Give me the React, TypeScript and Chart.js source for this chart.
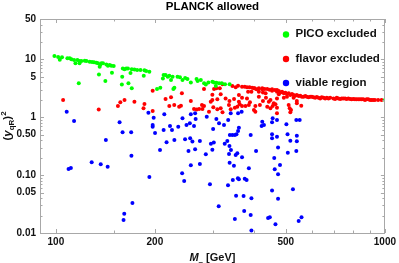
import React, { useEffect, useRef } from "react";
import { Chart, registerables } from "chart.js";

Chart.register(...registerables);

// ---------------- data (M_ in GeV, (y_qR)^2) ----------------
const picoExcluded: [number, number][] = [
  [99, 11.5], [101.6, 11.0], [102.8, 9.9], [104.4, 10.9], [108.4, 10.5], [110.2, 10.5], [111.5, 10.1],
  [113.6, 9.8], [114.7, 8.6], [116.3, 9.8], [118, 9.4], [118, 8.6], [119.6, 9.4], [122.4, 9.5],
  [123.9, 9.4], [126.7, 9.1], [128.8, 9.0], [130.6, 8.9], [132.8, 8.75], [134.3, 8.6], [136.6, 8.2],
  [137.5, 8.6], [135.9, 7.5], [139.1, 8.6], [142.4, 8.2], [144, 7.8], [145.7, 8.0], [147.4, 7.8],
  [149.9, 7.7], [135.2, 5.5], [141.4, 4.24], [148.1, 5.9], [117.4, 3.87], [159.8, 7.0], [161.7, 6.8],
  [163.7, 7.0], [165.6, 7.0], [170.1, 6.8], [173.3, 6.7], [176.6, 6.6], [180.8, 6.6], [185.9, 6.5],
  [188.1, 6.3], [192.4, 6.1], [159.1, 5.0], [168.6, 5.8], [185, 5.2], [158.7, 3.7], [166.2, 3.87],
  [170.1, 3.17], [203, 3.08], [207.7, 3.25], [212.6, 5.38], [215.5, 5.4], [211.5, 4.7], [218.8, 5.0],
  [221.2, 5.2], [223.9, 4.4], [226.4, 5.0], [234.3, 5.0], [238.3, 4.9], [242.6, 4.4], [247.2, 4.8],
  [251.2, 4.6], [257.2, 4.0], [267.7, 4.6], [269.7, 4.24], [275.8, 4.4], [282.2, 3.87], [285.6, 3.7],
  [290.8, 4.0], [299, 4.1], [302.6, 4.0], [307.5, 3.96], [313.3, 3.87], [319.3, 3.87], [326.7, 3.72],
  [229.2, 3.25], [227.6, 3.08], [337.4, 3.72], [306.3, 3.47], [1000, 2.0],
];

const flavorExcluded: [number, number][] = [
  [105.2, 1.99], [135, 1.37], [161.7, 1.99], [157, 1.82], [154.4, 1.57], [173.3, 1.86], [185.9, 1.7],
  [184.7, 1.43], [196.9, 2.88], [196.9, 1.29], [358, 3.52], [368, 3.38], [375, 3.38], [381, 3.3],
  [388, 3.3], [395, 3.25], [402, 3.17], [407, 3.05], [424, 3.17], [431, 3.08], [439, 3.08], [446, 3.0],
  [454, 3.05], [463, 2.96], [470, 2.96], [321, 3.72], [315, 3.17], [307.5, 3.17], [302.6, 3.08],
  [384, 2.77], [393, 2.77], [414, 2.77], [426, 2.69], [434, 2.6], [282, 3.08], [317, 2.5], [360, 2.43],
  [299, 2.46], [241.6, 2.6], [223.9, 2.22], [215.5, 2.07], [257.2, 1.91], [299, 1.99], [295.7, 1.86],
  [309.6, 2.05], [328, 2.11], [337, 1.91], [348, 2.07], [368, 2.18], [381, 2.11], [389, 1.82],
  [360, 1.86], [414, 2.27], [435, 2.18], [444, 1.86], [449, 1.99], [470, 2.11], [465, 1.68], [456, 1.57],
  [426, 1.91], [417, 1.63], [404, 1.57], [221.2, 1.57], [229, 1.63], [237, 1.52], [240, 1.59],
  [263, 1.39], [268, 1.37], [272.5, 1.39], [278, 1.63], [282, 1.57], [279, 1.39], [292, 1.25],
  [301, 1.49], [309.6, 1.375], [317, 1.43], [321, 1.22], [335.8, 1.63], [340, 1.375], [350, 1.46],
  [356, 1.52], [362, 1.68], [368, 1.57], [377, 1.57], [386, 1.63], [400, 1.34], [404, 1.25], [439, 1.52],
  [449, 1.43], [470, 1.46], [470, 1.17],
  [470, 2.77], [476, 2.85], [481.5, 2.69], [487, 2.77], [493, 2.6], [498.5, 2.65], [504, 2.525],
  [510, 2.6], [516, 2.43], [522, 2.525], [528, 2.43], [534, 2.36], [540, 2.43], [547, 2.33], [553, 2.36],
  [559.5, 2.27], [566, 2.27], [573, 2.33], [579, 2.27], [586, 2.22], [593, 2.27], [600, 2.27],
  [607, 2.22], [614, 2.18], [621, 2.24], [628.5, 2.18], [636, 2.11], [643, 2.22], [651, 2.18],
  [658.5, 2.11], [666, 2.18], [674, 2.11], [682, 2.18], [698, 2.11], [706, 2.07], [714, 2.18],
  [722.5, 2.11], [731, 2.07], [739, 2.11], [748, 2.11], [757, 2.11], [765, 2.07], [774.5, 2.11],
  [784, 2.07], [792.5, 2.05], [802, 2.07], [811, 2.05], [820, 2.05], [830, 2.05], [840, 2.05],
  [850, 2.05], [860, 2.05], [870, 1.99], [880, 2.05], [890, 2.05], [901, 1.99], [911, 1.99],
  [922, 1.99], [933, 1.99], [954, 1.99], [977, 1.99],
  [476, 2.5], [493, 2.18], [504, 2.27], [528, 2.18], [510, 1.63], [513.6, 1.43], [518.4, 1.34],
  [516, 1.22], [540, 1.91], [540, 1.75], [557, 1.59], [459.5, 1.75], [344, 3.47], [352, 3.3],
  [414, 3.17], [424, 3.05], [454, 2.88], [400, 3.17],
];

const viableRegion: [number, number][] = [
  [107.9, 1.25], [113.6, 0.86], [156.2, 0.82], [159.5, 0.55], [169.4, 0.55], [141.9, 0.405],
  [191.1, 1.2], [198.3, 0.98], [196.9, 0.736], [196.9, 0.689], [200.2, 0.535], [213.6, 1.13],
  [212.6, 0.603], [207.3, 0.272], [169.7, 0.217], [128.5, 0.167], [136.9, 0.154], [143.7, 0.139],
  [109.3, 0.128], [111.1, 0.133], [192.4, 0.093], [170.9, 0.033], [161.4, 0.0216], [160.6, 0.0168],
  [242.6, 0.96], [257.2, 1.13], [265, 1.17], [266, 0.934], [287.5, 1.02], [307.5, 0.934], [340, 1.17],
  [334, 0.898], [358, 1.17], [367, 1.25], [313.3, 0.79], [324.4, 0.736], [255.4, 0.79], [249.5, 0.736],
  [263, 0.707], [235.5, 0.689], [222.3, 0.707], [225.4, 0.603], [300.6, 0.627], [360, 0.66], [358, 0.58],
  [424, 0.84], [429, 0.736], [422, 0.707], [456, 0.96], [470, 0.898], [454, 0.82], [454, 0.51],
  [470, 0.46], [338, 0.494], [344, 0.494], [350, 0.494], [354, 0.51], [391, 0.494], [247, 0.416],
  [256, 0.433], [229.2, 0.405], [502, 0.757], [538, 0.898], [551, 0.898], [506, 0.51], [540, 0.48],
  [217, 0.37], [260, 0.38], [274, 0.39], [253, 0.261], [265, 0.28], [296, 0.35], [302, 0.365],
  [285.6, 0.23], [299, 0.275], [326, 0.35], [332, 0.39], [454, 0.433], [337, 0.319], [340.5, 0.272],
  [336, 0.232], [352, 0.223], [356, 0.239], [368, 0.204], [406, 0.261], [461, 0.198], [257.2, 0.148],
  [274, 0.156], [337.4, 0.164], [347.7, 0.146], [386, 0.1316], [462.6, 0.1265], [473.5, 0.1035],
  [242, 0.108], [245.5, 0.079], [294, 0.0695], [333.6, 0.0667], [345, 0.0824], [357.5, 0.088],
  [360, 0.0848], [375, 0.0866], [380, 0.0824], [454, 0.0542], [353, 0.044], [372, 0.0435],
  [393, 0.0398], [473.5, 0.0392], [312.6, 0.029], [373.6, 0.024], [391, 0.0205], [441.6, 0.0182],
  [447, 0.0187], [350, 0.0175], [465, 0.0141], [393, 0.011], [540, 0.385], [516, 0.393],
  [473.5, 0.3], [538, 0.261], [507, 0.244], [480, 0.15], [525.5, 0.057], [558, 0.0187], [547, 0.0161],
];

const seriesLabels = ["PICO excluded", "flavor excluded", "viable region"];
const seriesColors = ["rgb(0,255,0)", "rgb(255,0,0)", "rgb(0,0,255)"];

const xMajorTicks = [100, 200, 500, 1000];
const xTickLabels = ["100", "200", "500", "1000"];
const xMinorTicks = [150, 300, 400, 600, 700, 800, 900];
const yMajorTicks = [0.01, 0.05, 0.1, 0.5, 1, 5, 10, 50];
const yTickLabels = ["0.01", "0.05", "0.10", "0.50", "1", "5", "10", "50"];
const yMinorTicks = [
  0.02, 0.03, 0.04, 0.06, 0.07, 0.08, 0.09, 0.2, 0.3, 0.4, 0.6, 0.7, 0.8, 0.9,
  2, 3, 4, 6, 7, 8, 9, 20, 30, 40,
];

const xRange = [89.5, 1000];
const yRange = [0.01, 50];

const FONT = "'Liberation Sans', Arial, Helvetica, sans-serif";
const FRAME = "#a8a8a8";

type Part = { t: string; font: string; dy: number };

function drawParts(ctx: CanvasRenderingContext2D, parts: Part[], cx: number, baseY: number) {
  let total = 0;
  for (const p of parts) {
    ctx.font = p.font;
    total += ctx.measureText(p.t).width;
  }
  let x = cx - total / 2;
  ctx.textAlign = "left";
  ctx.textBaseline = "alphabetic";
  for (const p of parts) {
    ctx.font = p.font;
    ctx.fillText(p.t, x, baseY + p.dy);
    x += ctx.measureText(p.t).width;
  }
}

const framePlugin = {
  id: "mmaFrame",
  afterDraw(chart: any) {
    const { ctx, chartArea } = chart;
    const { left, right, top, bottom } = chartArea;
    const xs = chart.scales.x;
    const ys = chart.scales.y;
    ctx.save();
    // frame
    ctx.strokeStyle = FRAME;
    ctx.lineWidth = 1;
    ctx.strokeRect(Math.round(left) + 0.5, Math.round(top) + 0.5, Math.round(right - left) - 1, Math.round(bottom - top));
    // ticks (inward)
    const xTick = (v: number, len: number) => {
      const p = Math.round(xs.getPixelForValue(v)) + 0.5;
      ctx.beginPath();
      ctx.moveTo(p, bottom);
      ctx.lineTo(p, bottom - len);
      ctx.moveTo(p, top);
      ctx.lineTo(p, top + len);
      ctx.stroke();
    };
    const yTick = (v: number, len: number) => {
      const p = Math.round(ys.getPixelForValue(v)) + 0.5;
      ctx.beginPath();
      ctx.moveTo(left, p);
      ctx.lineTo(left + len, p);
      ctx.moveTo(right, p);
      ctx.lineTo(right - len, p);
      ctx.stroke();
    };
    xMajorTicks.forEach((v) => xTick(v, 4));
    xMinorTicks.forEach((v) => xTick(v, 2.5));
    yMajorTicks.forEach((v) => yTick(v, 4));
    yMinorTicks.forEach((v) => yTick(v, 2.5));

    // legend
    ctx.fillStyle = "#000";
    const legendRows = [34, 58.5, 82.5];
    chart.data.datasets.forEach((ds: any, i: number) => {
      const y = legendRows[i];
      ctx.fillStyle = ds.backgroundColor;
      ctx.beginPath();
      ctx.arc(286, y + 0.5, 3.2, 0, Math.PI * 2);
      ctx.fill();
      ctx.fillStyle = "#111";
      ctx.font = `bold 11.5px ${FONT}`;
      ctx.textAlign = "left";
      ctx.textBaseline = "middle";
      ctx.fillText(ds.label, 295.5, y);
    });

    // axis labels
    ctx.fillStyle = "#111";
    drawParts(
      ctx,
      [
        { t: "M", font: `italic bold 11px ${FONT}`, dy: 0 },
        { t: "\u2013", font: `bold 8px ${FONT}`, dy: 3 },
        { t: " [GeV]", font: `bold 11px ${FONT}`, dy: 0 },
      ],
      (left + right) / 2,
      261
    );
    ctx.translate(11, (top + bottom) / 2);
    ctx.rotate(-Math.PI / 2);
    drawParts(
      ctx,
      [
        { t: "(", font: `bold 11.5px ${FONT}`, dy: 0 },
        { t: "y", font: `italic bold 11.5px ${FONT}`, dy: 0 },
        { t: "qR", font: `bold 8px ${FONT}`, dy: 3 },
        { t: ")", font: `bold 11.5px ${FONT}`, dy: 0 },
        { t: "2", font: `bold 8px ${FONT}`, dy: -5 },
      ],
      0,
      0
    );
    ctx.restore();
  },
};

const toPoints = (arr: [number, number][]) => arr.map(([x, y]) => ({ x, y }));

export default function App() {
  const ref = useRef<HTMLCanvasElement | null>(null);
  useEffect(() => {
    document.body.style.margin = "0";
    const canvas = ref.current;
    if (!canvas) return;
    const chart = new Chart(canvas, {
      type: "scatter",
      data: {
        datasets: [
          { label: seriesLabels[0], data: toPoints(picoExcluded), backgroundColor: seriesColors[0] },
          { label: seriesLabels[1], data: toPoints(flavorExcluded), backgroundColor: seriesColors[1] },
          { label: seriesLabels[2], data: toPoints(viableRegion), backgroundColor: seriesColors[2] },
        ].map((d) => ({ ...d, pointRadius: 2, pointBorderWidth: 0, borderWidth: 0, pointHoverRadius: 2 })),
      },
      options: {
        responsive: false,
        animation: false,
        devicePixelRatio: 1,
        events: [],
        layout: { padding: { left: 0, right: 13, top: 0, bottom: 0 } },
        plugins: {
          legend: { display: false },
          tooltip: { enabled: false },
          title: {
            display: true,
            fullSize: false,
            text: "PLANCK allowed",
            color: "#000",
            font: { family: FONT, size: 11.5, weight: "bold" },
            padding: { top: 0, bottom: 5.2 },
          },
        },
        scales: {
          x: {
            type: "logarithmic",
            min: xRange[0],
            max: xRange[1],
            bounds: "data",
            afterBuildTicks: (scale: any) => {
              scale.ticks = xMajorTicks.map((v) => ({ value: v }));
            },
            afterFit: (scale: any) => {
              scale.height = 30;
            },
            ticks: {
              autoSkip: false,
              maxRotation: 0,
              padding: 3,
              color: "#111",
              font: { family: FONT, size: 10, weight: "bold" },
              callback: (_v: any, i: number) => xTickLabels[i],
            },
            grid: { display: false, drawTicks: false },
            border: { display: false },
          },
          y: {
            type: "logarithmic",
            min: yRange[0],
            max: yRange[1],
            bounds: "data",
            afterBuildTicks: (scale: any) => {
              scale.ticks = yMajorTicks.map((v) => ({ value: v }));
            },
            afterFit: (scale: any) => {
              scale.width = 40;
            },
            ticks: {
              autoSkip: false,
              padding: 4,
              color: "#111",
              font: { family: FONT, size: 10, weight: "bold" },
              callback: (_v: any, i: number) => yTickLabels[i],
            },
            grid: { display: false, drawTicks: false },
            border: { display: false },
          },
        },
      } as any,
      plugins: [framePlugin],
    });
    return () => chart.destroy();
  }, []);
  return (
    <div style={{ width: 399, height: 263, position: "relative" }}>
      <canvas ref={ref} width={399} height={263} style={{ width: 399, height: 263, display: "block" }} />
    </div>
  );
}
